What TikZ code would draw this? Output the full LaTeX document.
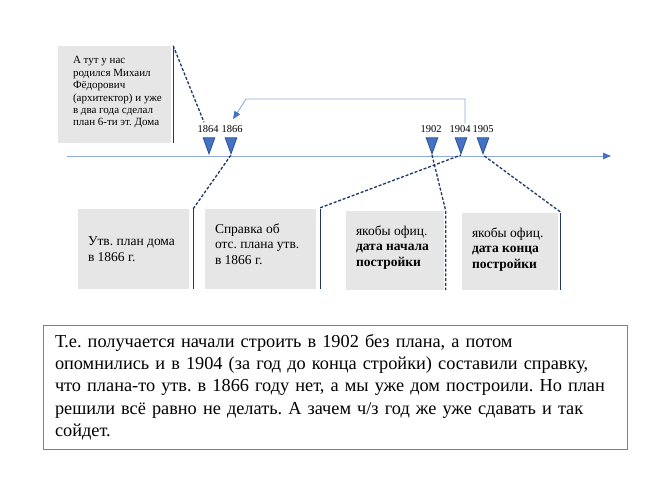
\documentclass[tikz,border=0pt]{standalone}
\usepackage{fontspec}
\setmainfont{Liberation Serif}
\usetikzlibrary{arrows.meta, shapes.geometric}

\definecolor{tlblue}{HTML}{8FAADC}
\definecolor{mkblue}{HTML}{4472C4}
\definecolor{mkedge}{HTML}{2F528F}
\definecolor{navy}{HTML}{203864}
\definecolor{boxgray}{HTML}{E7E6E6}

\frenchspacing

\begin{document}
\begin{tikzpicture}[
  x=1pt, y=-1pt,
  card/.style={fill=boxgray, inner sep=0pt},
  cardtext/.style={anchor=west, inner sep=0pt, align=left, font=\fontsize{13.5}{15.5}\selectfont},
  tri/.style={isosceles triangle, shape border rotate=-90, isosceles triangle apex angle=40, minimum height=16pt, fill=mkblue, draw=mkedge, line width=0.8pt, inner sep=0pt, anchor=apex},
  year/.style={font=\fontsize{10.5}{12}\selectfont, inner sep=0pt},
  rim/.style={navy, line width=1.4pt},
  lead/.style={navy, line width=1.3pt, dash pattern=on 3pt off 1.8pt},
  timeline/.style={tlblue, line width=0.9pt, -{Triangle[length=8pt,width=6.5pt,color=mkblue]}},
  conn/.style={tlblue, line width=0.9pt, -{Triangle[length=8pt,width=6.5pt,color=mkblue]}}
]
  \useasboundingbox (0,0) rectangle (670,489);

  \node[card, minimum width=113pt, minimum height=97pt] (born) at (114.5,94.5) {};
  \node[cardtext, font=\fontsize{11}{12.4}\selectfont] (borntext) at ([xshift=15pt,yshift=2pt]born.west)
    {А тут у нас\\ родился Михаил\\ Фёдорович\\ (архитектор) и уже\\ в два года сделал\\ план 6-ти эт. Дома};

  \coordinate (tl0) at (67,156);
  \coordinate (tl1) at (611,156);
  \draw[timeline] (tl0) -- (tl1);

  \node[tri] (t1864) at (209,155) {};
  \node[tri] (t1866) at (231,155) {};
  \node[tri] (t1902) at (432,155) {};
  \node[tri] (t1904) at (461,155) {};
  \node[tri] (t1905) at (483,155) {};

  \node[year] (y1864) at (208,129) {1864};
  \node[year] (y1866) at (232,129) {1866};
  \node[year] (y1902) at (431,129) {1902};
  \node[year] (y1904) at (460,129) {1904};
  \node[year] (y1905) at (483,129) {1905};

  \coordinate (kink) at (246,99);
  \draw[conn] ([xshift=5pt,yshift=2pt]y1904.north) |- (kink) -- ([xshift=1pt,yshift=6pt]y1866.north);

  \node[card, minimum width=111pt, minimum height=80pt] (b1866) at (133.5,249) {};
  \node[card, minimum width=111pt, minimum height=80pt] (bref) at (260.5,249) {};
  \node[card, minimum width=98pt, minimum height=79pt] (bstart) at (395,250.5) {};
  \node[card, minimum width=96pt, minimum height=77pt] (bfinish) at (510,251.5) {};

  \node[cardtext] (b1866text) at ([xshift=10pt]b1866.west) {Утв. план дома\\ в 1866 г.};
  \node[cardtext] (breftext) at ([xshift=10pt,yshift=5pt]bref.west) {Справка об\\ отс. плана утв.\\ в 1866 г.};
  \node[cardtext] (bstarttext) at ([xshift=10pt,yshift=3pt]bstart.west) {якобы офиц.\\ \textbf{дата начала}\\ \textbf{постройки}};
  \node[cardtext] (bfinishtext) at ([xshift=10pt,yshift=2pt]bfinish.west) {якобы офиц.\\ \textbf{дата конца}\\ \textbf{постройки}};

  \draw[rim] ([xshift=2pt]born.north east) -- ([xshift=2pt]born.south east);
  \draw[lead] ([xshift=2pt]born.north east) -- ([xshift=-4pt,yshift=3pt]y1864.north);
  \draw[rim] ([xshift=4pt]b1866.north east) -- ([xshift=4pt]b1866.south east);
  \draw[lead] ([xshift=4pt]b1866.north east) -- (t1866.apex);
  \draw[rim] ([xshift=4pt]bref.north east) -- ([xshift=4pt]bref.south east);
  \draw[lead] ([xshift=4pt,yshift=1pt]bref.north east) -- (t1904.apex);
  \draw[lead] (t1902.apex) -- ([xshift=1.5pt]bstart.north east) -- ([xshift=1.5pt]bstart.south east);
  \draw[rim] ([xshift=2pt]bfinish.north east) -- ([xshift=2pt]bfinish.south east);
  \draw[lead] ([xshift=2pt,yshift=1pt]bfinish.north east) -- (t1905.apex);

  \node[draw=black!50, line width=0.8pt, minimum width=584pt, minimum height=124pt, text width=560pt, inner xsep=12pt, align=left, font=\fontsize{18.3}{22.3}\selectfont] (summary) at (335,387)
    {Т.е. получается начали строить в 1902 без плана, а потом\\
     опомнились и в 1904 (за год до конца стройки) составили справку,\\
     что плана-то утв. в 1866 году нет, а мы уже дом построили. Но план\\
     решили всё равно не делать. А зачем ч/з год же уже сдавать и так\\
     сойдет.};
\end{tikzpicture}
\end{document}
